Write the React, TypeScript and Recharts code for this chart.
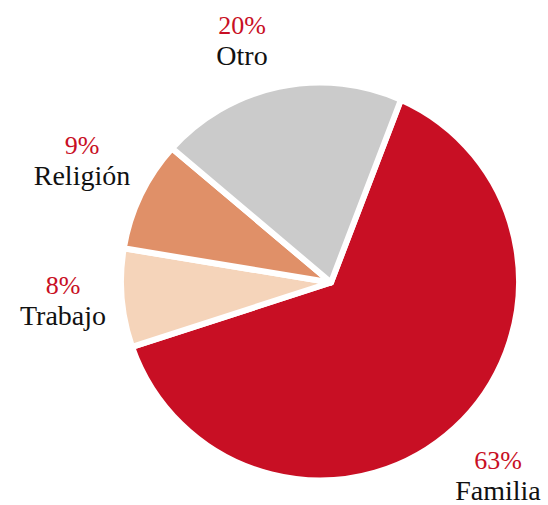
import { Cell, Pie, PieChart } from "recharts";

const categories = ["Familia", "Trabajo", "Religión", "Otro"];
const shares = [63, 8, 9, 20];
const sliceColors = ["#C80F24", "#F5D4BA", "#E09068", "#CBCBCB"];

// label anchors (centre x, name baseline) relative to the pie centre
const labelAnchors = [
	[178, 218.5],
	[-257, 43.5],
	[-238, -96.5],
	[-78, -216.5],
];

const data = categories.map((name, i) => ({ name, value: shares[i] }));

const RAD = Math.PI / 180;
const FONT = "'Liberation Serif', 'DejaVu Serif', serif";

function Slice(props: any) {
	const { cx, cy, outerRadius, startAngle, endAngle, fill } = props;
	const pt = (a: number) => [
		cx + outerRadius * Math.cos(-a * RAD),
		cy + outerRadius * Math.sin(-a * RAD),
	];
	const [x1, y1] = pt(startAngle);
	const [x2, y2] = pt(endAngle);
	const large = Math.abs(startAngle - endAngle) > 180 ? 1 : 0;
	const sweep = startAngle > endAngle ? 1 : 0;
	return (
		<path
			d={`M${cx + 11},${cy + 1} L${x1},${y1} A${outerRadius},${outerRadius} 0 ${large} ${sweep} ${x2},${y2} Z`}
			fill={fill}
			stroke="#fff"
			strokeWidth={6}
			strokeLinejoin="round"
		/>
	);
}

function renderLabel(props: any) {
	const { cx, cy, index } = props;
	const [dx, dy] = labelAnchors[index];
	const x = cx + dx;
	const y = cy + dy;
	return (
		<g key={`lbl-${index}`}>
			<text x={x} y={y - 31} textAnchor="middle" fill="#C80F24" fontSize={26} fontFamily={FONT}>
				{`${shares[index]}%`}
			</text>
			<text x={x} y={y} textAnchor="middle" fill="#111" fontSize={28} fontFamily={FONT}>
				{categories[index]}
			</text>
		</g>
	);
}

export default function App() {
	return (
		<div style={{ position: "absolute", left: 0, top: 0, width: 548, height: 505, background: "#fff" }}>
			<PieChart width={548} height={505} margin={{ top: 0, right: 0, bottom: 0, left: 0 }}>
				<Pie
					data={data}
					dataKey="value"
					nameKey="name"
					cx={320}
					cy={281.5}
					outerRadius={199}
					startAngle={66}
					endAngle={-294}
					stroke="#fff"
					strokeWidth={6}
					shape={Slice}
					label={renderLabel}
					labelLine={false}
					isAnimationActive={false}
				>
					{data.map((d, i) => (
						<Cell key={d.name} fill={sliceColors[i]} />
					))}
				</Pie>
			</PieChart>
		</div>
	);
}
